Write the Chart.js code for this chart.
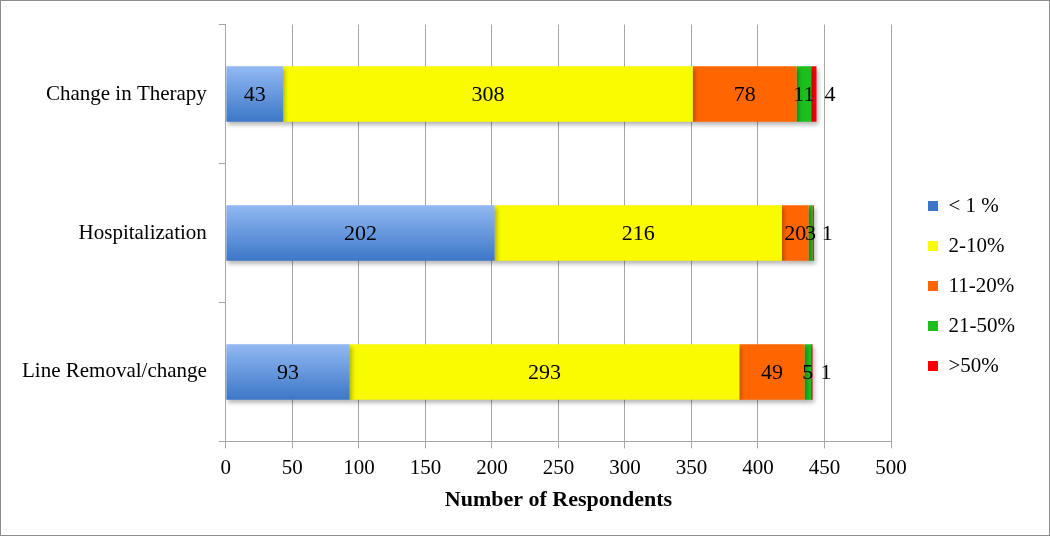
<!DOCTYPE html>
<html>
<head>
<meta charset="utf-8">
<script src="https://cdn.jsdelivr.net/npm/chart.js@4.4.1/dist/chart.umd.min.js"></script>
<style>
html,body{margin:0;padding:0;background:#fff;}
#wrap{width:1050px;height:536px;position:relative;}
</style>
</head>
<body>
<div id="wrap"><canvas id="c" width="1050" height="536"></canvas></div>
<script>
const categories = ['Change in Therapy', 'Hospitalization', 'Line Removal/change'];
const seriesNames = ['< 1 %', '2-10%', '11-20%', '21-50%', '>50%'];
const lessThan1 = [43, 202, 93];
const from2to10 = [308, 216, 293];
const from11to20 = [78, 20, 49];
const from21to50 = [11, 3, 5];
const over50 = [4, 1, 1];
const xTicks = [0, 50, 100, 150, 200, 250, 300, 350, 400, 450, 500];

const FONT = 'Liberation Serif';
const colors = ['#4F86D0', '#FAFA00', '#FF6600', '#1DBF1D', '#FF0000'];

function blueGradient(context) {
  const chart = context.chart;
  const y = chart.scales && chart.scales.y;
  if (!y || context.dataIndex === undefined) return colors[0];
  const c = y.getPixelForValue(context.dataIndex);
  const half = (y.height / categories.length) * 0.4 / 2;
  if (!isFinite(c) || !isFinite(half) || half <= 0) return colors[0];
  const g = chart.ctx.createLinearGradient(0, c - half, 0, c + half);
  g.addColorStop(0, '#92B9F3');
  g.addColorStop(1, '#3C77C7');
  return g;
}

const seriesData = [lessThan1, from2to10, from11to20, from21to50, over50];
const datasets = seriesData.map((d, i) => ({
  label: seriesNames[i],
  data: d,
  backgroundColor: i === 0 ? blueGradient : colors[i],
  borderWidth: 0,
  categoryPercentage: 0.4,
  barPercentage: 1.0
}));

const bgPlugin = {
  id: 'bg',
  beforeDraw(chart) {
    const ctx = chart.ctx;
    ctx.save();
    ctx.fillStyle = '#fff';
    ctx.fillRect(0, 0, chart.width, chart.height);
    ctx.strokeStyle = '#8c8c8c';
    ctx.lineWidth = 1;
    ctx.strokeRect(0.5, 0.5, chart.width - 1, chart.height - 1);
    ctx.restore();
  }
};

// move the legend box a little to the right and down, as in the original
const legendShift = {
  id: 'legendShift',
  afterLayout(chart) {
    const lg = chart.legend;
    if (!lg) return;
    lg.left += 18; lg.right += 18;
    lg.top += 18; lg.bottom += 18;
  }
};

const shadowPlugin = {
  id: 'shadow',
  beforeDatasetsDraw(chart) {
    const ctx = chart.ctx;
    ctx.save();
    ctx.shadowColor = 'rgba(0,0,0,0.28)';
    ctx.shadowBlur = 4;
    ctx.shadowOffsetX = 2;
    ctx.shadowOffsetY = 3;
  },
  afterDatasetsDraw(chart) {
    chart.ctx.restore();
  }
};

const labelPlugin = {
  id: 'valueLabels',
  afterDatasetsDraw(chart) {
    const ctx = chart.ctx;
    ctx.save();
    ctx.font = '22px "' + FONT + '"';
    ctx.fillStyle = '#000';
    ctx.textBaseline = 'middle';
    const last = chart.data.datasets.length - 1;
    chart.data.datasets.forEach((ds, di) => {
      const meta = chart.getDatasetMeta(di);
      meta.data.forEach((bar, i) => {
        const v = ds.data[i];
        if (di === last) {
          ctx.textAlign = 'left';
          ctx.fillText(String(v), bar.x + 8, bar.y + 1);
        } else {
          ctx.textAlign = 'center';
          ctx.fillText(String(v), (bar.x + bar.base) / 2, bar.y + 1);
        }
      });
    });
    ctx.restore();
  }
};

new Chart(document.getElementById('c'), {
  type: 'bar',
  data: { labels: categories, datasets },
  plugins: [bgPlugin, legendShift, shadowPlugin, labelPlugin],
  options: {
    indexAxis: 'y',
    responsive: false,
    animation: false,
    devicePixelRatio: 1,
    layout: { padding: { top: 22, right: 43, bottom: 22, left: 10 } },
    plugins: {
      legend: {
        position: 'right',
        labels: {
          font: { family: FONT, size: 21 },
          color: '#000',
          boxWidth: 10,
          boxHeight: 10,
          padding: 19
        }
      },
      tooltip: { enabled: false }
    },
    scales: {
      x: {
        stacked: true,
        min: 0,
        max: 500,
        afterBuildTicks(axis) { axis.ticks = xTicks.map(v => ({ value: v })); },
        grid: { color: '#a6a6a6', lineWidth: 1, tickLength: 7, drawTicks: true },
        border: { color: '#a6a6a6' },
        ticks: { font: { family: FONT, size: 21 }, color: '#000', padding: 7, maxRotation: 0 },
        title: {
          display: true,
          text: 'Number of Respondents',
          font: { family: FONT, size: 22, weight: 'bold' },
          color: '#000',
          padding: { top: 0, bottom: 0 }
        }
      },
      y: {
        stacked: true,
        grid: { offset: true, drawOnChartArea: false, color: '#a6a6a6', tickLength: 7 },
        border: { color: '#a6a6a6' },
        ticks: { font: { family: FONT, size: 21 }, color: '#000', padding: 12 }
      }
    }
  }
});
</script>
</body>
</html>
